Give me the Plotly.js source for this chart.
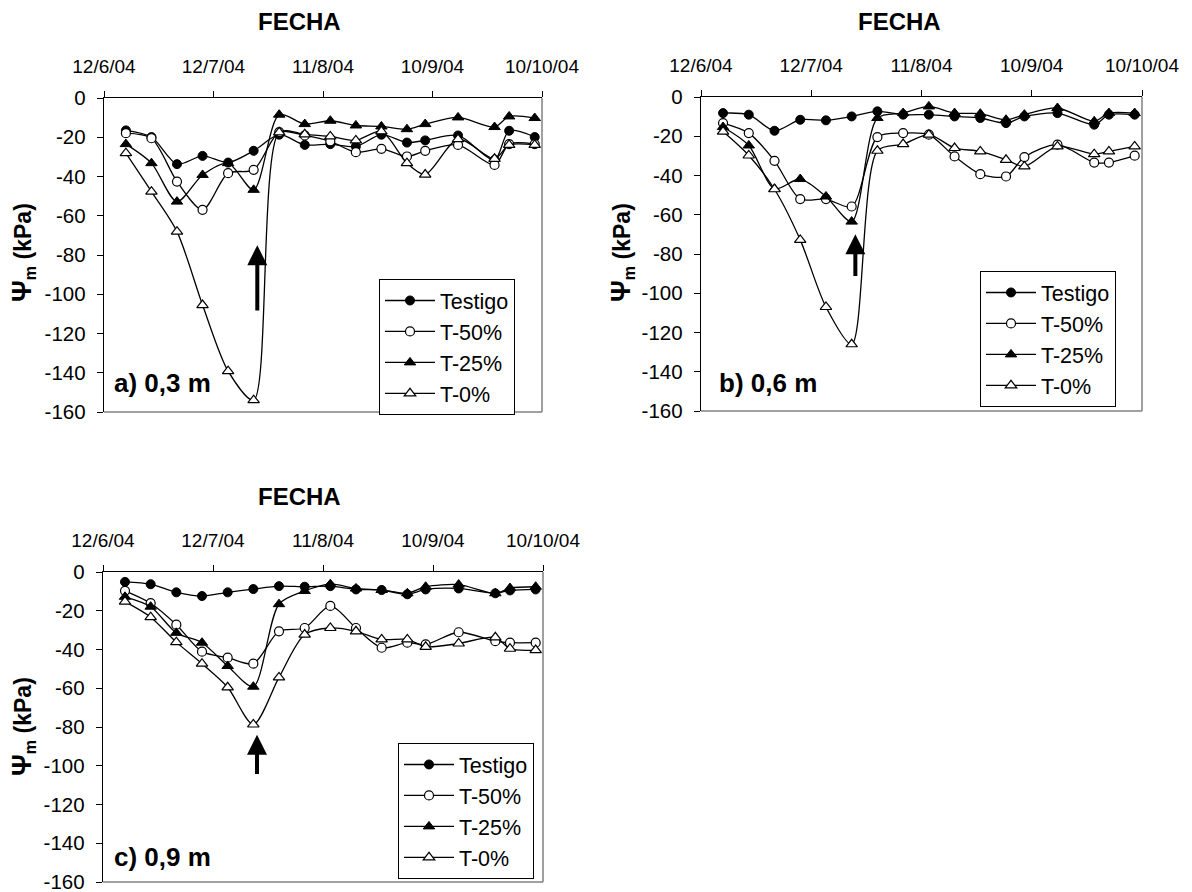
<!DOCTYPE html>
<html><head><meta charset="utf-8">
<script src="https://cdn.plot.ly/plotly-3.0.1.min.js"></script>
<style>body{margin:0;background:#fff}#chart{width:1192px;height:892px}</style>
</head><body><div id="chart"></div>
<script>
// ---- data ----
const fechas = ['2004-06-18','2004-06-25','2004-07-02','2004-07-09','2004-07-16','2004-07-23','2004-07-30','2004-08-06','2004-08-13','2004-08-20','2004-08-27','2004-09-03','2004-09-08','2004-09-17','2004-09-27','2004-10-01','2004-10-08'];
const xTickVals = ['2004-06-12','2004-07-12','2004-08-11','2004-09-10','2004-10-10'];
const xTickLabels = ['12/6/04','12/7/04','11/8/04','10/9/04','10/10/04'];
const yTickVals = [0,-20,-40,-60,-80,-100,-120,-140,-160];
const yTickLabels = ['0','-20','-40','-60','-80','-100','-120','-140','-160'];
const seriesNames = ['Testigo','T-50%','T-25%','T-0%'];
const panelLabels = ['a) 0,3 m','b) 0,6 m','c) 0,9 m'];
const xTitle = 'FECHA';
const yTitle = '<b><span style="font-size:27px">\u03A8</span><sub>m</sub> (kPa)</b>';

// panel a (0,3 m)
const a_testigo = [-16.5,-19.9,-33.7,-29.5,-32.9,-26.9,-18.7,-23.9,-23.5,-24.7,-18.7,-22.7,-21.6,-19.1,-31.5,-16.7,-19.9];
const a_t50     = [-17.9,-20.5,-42.6,-57.0,-38.3,-36.6,-17.4,-19.1,-22.1,-27.6,-25.9,-29.8,-26.9,-23.9,-34.1,-23.5,-23.5];
const a_t25     = [-23.5,-33.2,-52.8,-39.2,-33.2,-46.8,-8.5,-13.3,-11.6,-14.0,-14.5,-15.9,-13.3,-9.9,-14.8,-9.4,-10.2];
const a_t0      = [-28.1,-47.7,-68.1,-105.5,-139.2,-154.0,-17.5,-18.5,-19.6,-21.6,-17.0,-33.2,-39.0,-21.0,-31.0,-23.9,-23.9];
// panel b (0,6 m)
const b_testigo = [-8.2,-9.0,-17.2,-11.6,-11.9,-9.9,-7.3,-9.0,-9.0,-9.9,-10.7,-13.3,-9.9,-8.2,-14.1,-9.0,-9.0];
const b_t50     = [-13.3,-18.4,-32.5,-52.0,-52.0,-55.8,-20.4,-18.4,-19.2,-30.3,-39.3,-40.5,-30.6,-24.3,-33.4,-33.4,-29.9];
const b_t25     = [-15.3,-24.7,-46.8,-41.8,-50.7,-63.5,-10.7,-8.2,-4.8,-8.2,-8.5,-11.6,-9.0,-5.6,-12.4,-8.2,-8.2];
const b_t0      = [-17.6,-29.8,-47.0,-72.8,-107.0,-126.0,-27.4,-24.0,-19.2,-26.0,-27.7,-32.0,-35.4,-25.2,-29.1,-27.7,-25.2];
// panel c (0,9 m)
const c_testigo = [-5.1,-6.3,-10.5,-12.4,-10.5,-8.8,-7.3,-7.6,-7.3,-9.0,-9.3,-11.5,-9.0,-8.5,-11.0,-9.5,-9.0];
const c_t50     = [-9.7,-16.1,-27.2,-41.1,-44.2,-47.3,-30.6,-28.9,-17.5,-28.9,-39.1,-36.5,-37.4,-31.1,-35.7,-36.5,-36.5];
const c_t25     = [-12.8,-17.9,-31.4,-36.5,-48.5,-59.2,-16.6,-9.8,-6.3,-8.5,-9.3,-11.0,-7.6,-6.5,-11.0,-8.3,-7.6];
const c_t0      = [-15.3,-23.3,-36.2,-47.3,-59.5,-78.7,-54.4,-32.3,-28.9,-30.6,-34.8,-34.8,-38.6,-36.9,-33.7,-39.6,-40.3];

// arrows: [date, tip value, tail value]
const arrowDates = ['2004-07-24','2004-07-24','2004-07-24'];
const arrowTips = [-75,-70,-84];
const arrowTails = [-109,-92,-105];

// ---- build ----
const FONT = 'Liberation Sans, Arial, sans-serif';
const W = 1192, H = 892;
const panels = [
  {data:[a_testigo,a_t50,a_t25,a_t0], xd:[104,542], yd:[98,412], leg:[379,279], title:[299,22], lab:[112,383], ytl:[23,253]},
  {data:[b_testigo,b_t50,b_t25,b_t0], xd:[701,1142], yd:[97,411], leg:[980,271], title:[899,22], lab:[717,383], ytl:[622,253]},
  {data:[c_testigo,c_t50,c_t25,c_t0], xd:[103,543], yd:[572,882], leg:[398,743], title:[299,496], lab:[112,857], ytl:[23,727]}
];
const markers = [
  {symbol:'circle', size:9, color:'#000', line:{color:'#000', width:1}},
  {symbol:'circle', size:9, color:'#fff', line:{color:'#000', width:1.2}},
  {symbol:'triangle-up', size:10, color:'#000', line:{color:'#000', width:1}},
  {symbol:'triangle-up', size:10, color:'#fff', line:{color:'#000', width:1.2}}
];
const traces = [];
const layout = {
  width:W, height:H, margin:{l:0,r:0,t:0,b:0}, paper_bgcolor:'#fff', plot_bgcolor:'#fff',
  font:{family:FONT, color:'#000', size:19}, showlegend:true,
  annotations:[], shapes:[]
};
panels.forEach((p,i) => {
  const sfx = i===0 ? '' : String(i+1);
  const legName = 'legend' + sfx;
  p.data.forEach((vals,k) => {
    traces.push({
      type:'scatter', mode:'lines+markers', name:seriesNames[k],
      x:fechas, y:vals, xaxis:'x'+sfx, yaxis:'y'+sfx, legend:legName,
      line:{color:'#000', width:1.3, shape:'spline', smoothing:0.8},
      marker:markers[k], cliponaxis:false
    });
  });
  layout['xaxis'+sfx] = {
    domain:[p.xd[0]/W, p.xd[1]/W], anchor:'y'+sfx, side:'top', type:'date',
    range:['2004-06-12','2004-10-10'], tickvals:xTickVals, ticktext:xTickLabels,
    showline:true, linecolor:'#000', linewidth:1.3, ticks:'outside', ticklen:6, tickcolor:'#000',
    showgrid:false, zeroline:false, tickfont:{size:19}, ticklabelstandoff:10, automargin:false,
    ticklabeloverflow:'allow'
  };
  layout['yaxis'+sfx] = {
    domain:[1-p.yd[1]/H, 1-p.yd[0]/H], anchor:'x'+sfx, range:[-160,0],
    tickvals:yTickVals, ticktext:yTickLabels,
    showline:true, linecolor:'#000', linewidth:1.3, ticks:'outside', ticklen:6, tickcolor:'#000',
    showgrid:false, zeroline:false, tickfont:{size:20.5}, ticklabelstandoff:7, automargin:false,
    ticklabeloverflow:'allow'
  };
  layout[legName] = {
    x:p.leg[0]/W, y:1-p.leg[1]/H, xanchor:'left', yanchor:'top',
    bgcolor:'#fff', bordercolor:'#000', borderwidth:1,
    font:{size:21.5, family:FONT, color:'#000'}, itemwidth:50, tracegroupgap:0
  };
  // right & bottom frame (grey)
  layout.shapes.push({type:'line', xref:'paper', yref:'paper', x0:p.xd[1]/W, x1:p.xd[1]/W, y0:1-p.yd[0]/H, y1:1-p.yd[1]/H, line:{color:'#808080', width:1.5}});
  layout.shapes.push({type:'line', xref:'paper', yref:'paper', x0:p.xd[0]/W, x1:p.xd[1]/W, y0:1-p.yd[1]/H, y1:1-p.yd[1]/H, line:{color:'#808080', width:1.5}});
  layout.annotations.push({xref:'paper', yref:'paper', x:p.title[0]/W, y:1-p.title[1]/H, text:'<b>'+xTitle+'</b>', showarrow:false, xanchor:'center', yanchor:'middle', font:{size:24}});
  layout.annotations.push({xref:'paper', yref:'paper', x:p.lab[0]/W, y:1-p.lab[1]/H, text:'<b>'+panelLabels[i]+'</b>', showarrow:false, xanchor:'left', yanchor:'middle', font:{size:26}});
  layout.annotations.push({xref:'paper', yref:'paper', x:p.ytl[0]/W, y:1-p.ytl[1]/H, text:yTitle, textangle:-90, showarrow:false, xanchor:'center', yanchor:'middle', font:{size:23}});
  layout.annotations.push({xref:'x'+sfx, yref:'y'+sfx, axref:'x'+sfx, ayref:'y'+sfx, x:arrowDates[i], y:arrowTips[i], ax:arrowDates[i], ay:arrowTails[i], text:'', showarrow:true, arrowhead:2, arrowsize:1, arrowwidth:4, arrowcolor:'#000'});
});
Plotly.newPlot('chart', traces, layout, {staticPlot:true});
</script></body></html>
